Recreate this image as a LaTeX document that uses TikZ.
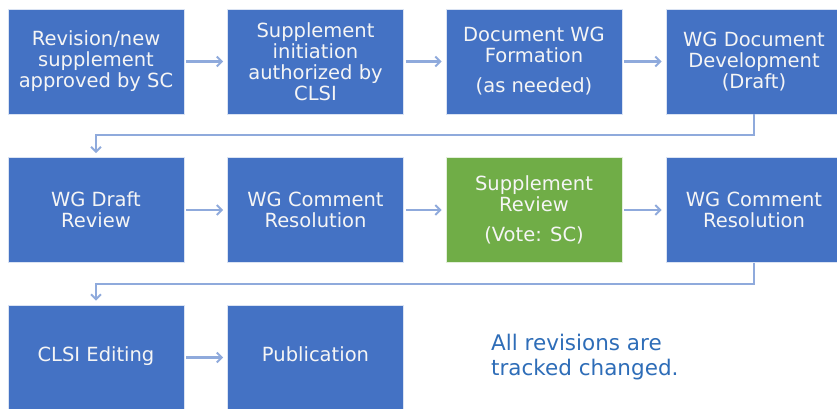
\documentclass[tikz,border=0pt]{standalone}
\usepackage{fontspec}
\setmainfont{DejaVu Sans}
\usetikzlibrary{arrows.meta,calc}
\definecolor{boxblue}{HTML}{4472C4}
\definecolor{boxgreen}{HTML}{70AD47}
\definecolor{linkblue}{HTML}{8FAADC}
\definecolor{noteblue}{HTML}{2E6DB8}
\tikzset{
  stepbox/.style={fill=boxblue, draw=white!80!boxblue, line width=0.6pt,
    minimum width=176pt, minimum height=105pt, inner sep=2pt,
    text=white!96!black, align=center,
    font=\fontsize{19.5}{21}\selectfont},
  greenbox/.style={stepbox, fill=boxgreen, draw=white!80!boxgreen},
  link/.style={draw=linkblue, line width=2.4pt,
    -{Straight Barb[length=5pt,width=10pt,line width=2pt]},
    shorten >=4pt, shorten <=2pt},
  elbow/.style={draw=linkblue, line width=2.4pt,
    -{Straight Barb[length=5pt,width=10pt,line width=2pt]},
    shorten >=4pt}
}
\begin{document}
\begin{tikzpicture}[x=1pt,y=1pt]
\useasboundingbox (0,0) rectangle (837,409);
\clip (0,0) rectangle (837,409);
\fill[white] (0,0) rectangle (837,409);
% row 1
\node[stepbox] (b1) at (96,347.5) {Revision/new\\supplement\\approved by SC};
\node[stepbox] (b2) at (315.5,347.5) {Supplement\\initiation\\authorized by\\CLSI};
\node[stepbox] (b3) at (534,347.5) {Document WG\\Formation\\[9pt](as needed)};
\node[stepbox] (b4) at (754,347.5) {WG Document\\Development\\(Draft)};
% row 2
\node[stepbox] (b5) at (96,199) {WG Draft\\Review};
\node[stepbox] (b6) at (315.5,199) {WG Comment\\Resolution};
\node[greenbox] (b7) at (534,199) {Supplement\\Review\\[9pt](Vote: SC)};
\node[stepbox] (b8) at (754,199) {WG Comment\\Resolution};
% row 3
\node[stepbox] (b9) at (96,51.5) {\strut CLSI Editing};
\node[stepbox] (b10) at (315.5,51.5) {\strut Publication};
\node[anchor=west, align=left, text=noteblue, inner sep=0pt,
  font=\fontsize{21.5}{25}\selectfont] (note) at (491,52) {All revisions are\\tracked changed.};
% connectors
\draw[link] (b1) -- (b2);
\draw[link] (b2) -- (b3);
\draw[link] (b3) -- (b4);
\draw[link] (b5) -- (b6);
\draw[link] (b6) -- (b7);
\draw[link] (b7) -- (b8);
\draw[link] (b9) -- (b10);
\coordinate (t1) at ($(b4.south)+(0,-21)$);
\coordinate (t2) at ($(b8.south)+(0,-21)$);
\draw[elbow] (b4.south) -- (t1) -| (b5.north);
\draw[elbow] (b8.south) -- (t2) -| (b9.north);
\end{tikzpicture}
\end{document}
